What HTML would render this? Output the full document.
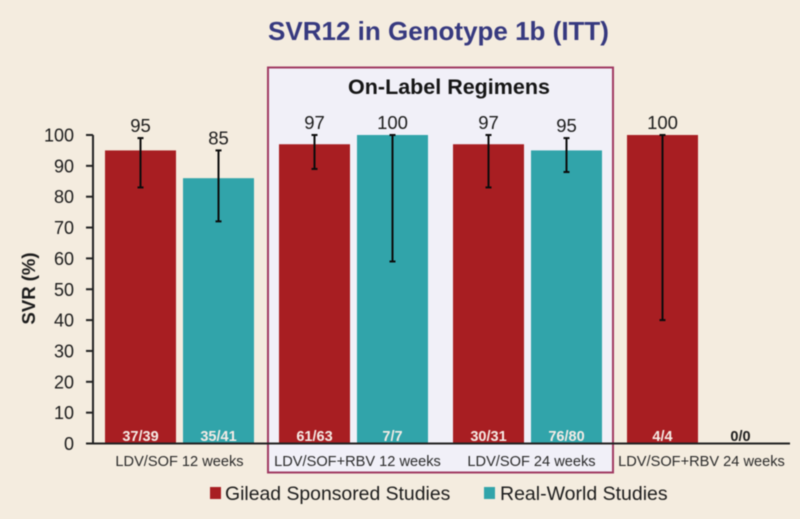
<!DOCTYPE html>
<html lang="en">
<head>
<meta charset="utf-8">
<title>SVR12 in Genotype 1b (ITT)</title>
<style>
html,body{margin:0;padding:0;background:#f4ecdf;}
svg{display:block;font-family:"Liberation Sans",sans-serif;filter:blur(0.5px);}
</style>
</head>
<body>
<svg id="chart" xmlns="http://www.w3.org/2000/svg" width="800" height="519" viewBox="0 0 800 519">
  <rect x="0" y="0" width="800" height="519" fill="#f4ecdf"/>
  <text x="438.5" y="40" text-anchor="middle" font-size="26" font-weight="bold" fill="#36397f">SVR12 in Genotype 1b (ITT)</text>
  <rect x="268" y="67.5" width="345" height="405" fill="#f1f0f8" stroke="#a03a62" stroke-width="2"/>
  <text x="449" y="94" text-anchor="middle" font-size="21.5" font-weight="bold" fill="#151515">On-Label Regimens</text>
  <text transform="translate(35,288.5) rotate(-90)" text-anchor="middle" font-size="18.5" font-weight="bold" fill="#1c1c1c">SVR (%)</text>
  <g id="marks"></g>
  <g id="axes"></g>
  <g>
    <rect x="210" y="487" width="11" height="12" fill="#a81e22"/>
    <text x="225" y="500" font-size="19.4" fill="#1c1c1c">Gilead Sponsored Studies</text>
    <rect x="484" y="487" width="11" height="12" fill="#31a4aa"/>
    <text x="500" y="500" font-size="19.5" fill="#1c1c1c">Real-World Studies</text>
  </g>
</svg>
<script>
const categories = ["LDV/SOF 12 weeks", "LDV/SOF+RBV 12 weeks", "LDV/SOF 24 weeks", "LDV/SOF+RBV 24 weeks"];
const yTicks = [0, 10, 20, 30, 40, 50, 60, 70, 80, 90, 100];
const gileadValues = [95, 97, 97, 100];
const gileadLabels = ["95", "97", "97", "100"];
const gileadHigh = [99, 100, 100, 100];
const gileadLow = [83, 89, 83, 40];
const gileadCounts = ["37/39", "61/63", "30/31", "4/4"];
const realWorldValues = [86, 100, 95, 0];
const realWorldLabels = ["85", "100", "95", ""];
const realWorldHigh = [95, 100, 99, null];
const realWorldLow = [72, 59, 88, null];
const realWorldCounts = ["35/41", "7/7", "76/80", "0/0"];

const NS = "http://www.w3.org/2000/svg";
const marks = document.getElementById("marks");
const axes = document.getElementById("axes");
const RED = "#a81e22", TEAL = "#31a4aa", INK = "#1c1c1c";
const BAR_W = 71;

function y(v) { return 443.5 - v * 3.085; }
function groupX(i) { return 105 + i * 174; }
function barX(i, s) { return groupX(i) + s * 78; }

function make(tag, attrs, parent, text) {
  const el = document.createElementNS(NS, tag);
  for (const k in attrs) el.setAttribute(k, attrs[k]);
  if (text !== undefined) el.textContent = text;
  parent.appendChild(el);
  return el;
}

function drawSeries(s, key, color, values, labels, high, low, counts) {
  values.forEach(function (v, i) {
    const x = barX(i, s);
    const cx = x + BAR_W / 2;
    if (v > 0) {
      const bar = make("rect", { x: x, y: y(v), width: BAR_W, height: y(0) - y(v), fill: color }, marks);
      
      
    }
    if (high[i] !== null) {
      const g = make("g", { stroke: "#0c0c0c", "stroke-width": 2, fill: "none" }, marks);
      
      
      make("line", { x1: cx, x2: cx, y1: y(high[i]), y2: y(low[i]) }, g);
      make("line", { x1: cx - 3, x2: cx + 3, y1: y(high[i]), y2: y(high[i]) }, g);
      make("line", { x1: cx - 3, x2: cx + 3, y1: y(low[i]), y2: y(low[i]) }, g);
    }
    if (labels[i] !== "") {
      const top = make("text", { x: cx, y: y(high[i]) - 6, "text-anchor": "middle", "font-size": 18.5, fill: INK }, marks, labels[i]);
      
      
    }
    const n = make("text", { x: cx, y: 441, "text-anchor": "middle", "font-size": 14.5, "font-weight": "bold", fill: v > 0 ? "#f6ece6" : INK }, marks, counts[i]);
    
    
  });
}

drawSeries(0, "gilead", RED, gileadValues, gileadLabels, gileadHigh, gileadLow, gileadCounts);
drawSeries(1, "real-world", TEAL, realWorldValues, realWorldLabels, realWorldHigh, realWorldLow, realWorldCounts);

const yAxisLine = make("line", { x1: 93, x2: 93, y1: y(100), y2: y(0), stroke: "#222", "stroke-width": 2 }, axes);


const xAxisLine = make("line", { x1: 86, x2: 790, y1: y(0), y2: y(0), stroke: "#222", "stroke-width": 2 }, axes);



yTicks.forEach(function (t) {
  const tick = make("line", { x1: 86, x2: 93, y1: y(t), y2: y(t), stroke: "#222", "stroke-width": 2 }, axes);
  
  
  const label = make("text", { x: 74, y: y(t) + 6.5, "text-anchor": "end", "font-size": 18, fill: INK }, axes, String(t));
  
  
});

categories.forEach(function (c, i) {
  const shift = (i === 1 || i === 2) ? 4 : 0;
  const label = make("text", { x: groupX(i) + 74.5 + shift, y: 466, "text-anchor": "middle", "font-size": 14.6, fill: "#2a2a2a" }, axes, c);
  
  
});
</script>
</body>
</html>
